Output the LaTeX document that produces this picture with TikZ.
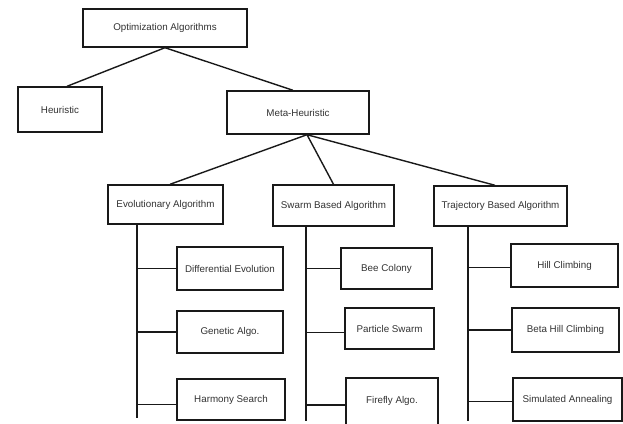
\documentclass[tikz,border=0pt]{standalone}
\usepackage{fontspec}
\setmainfont{Liberation Sans}
\tikzset{
  bx/.style={draw=black!90, line width=1.4pt, fill=white, inner sep=0pt, font=\fontsize{9.8}{11}\selectfont, text=black!80},
  conn/.style={draw=black!90, line width=1.4pt},
}
\newcommand{\mybox}[6]{%
  \node[bx, minimum width={(#4-#2)*1pt}, minimum height={(#5-#3)*1pt}] (#1) at ({(#2+#4)/2},{(#3+#5)/2}) {#6};}
\begin{document}
\begin{tikzpicture}[x=1pt,y=-1pt]
\useasboundingbox[fill=white] (0,0) rectangle (623,423);
% boxes
\mybox{opt}{83}{9}{247}{47}{Optimization Algorithms}
\mybox{heur}{18}{87}{102}{132}{Heuristic}
\mybox{meta}{227}{91}{369}{134}{Meta-Heuristic}
\mybox{evo}{108}{185}{223}{224}{Evolutionary Algorithm}
\mybox{swarm}{273}{185}{394}{226}{Swarm Based Algorithm}
\mybox{traj}{434}{186}{567}{226}{Trajectory Based Algorithm}
\mybox{diff}{177}{247}{283}{290}{Differential Evolution}
\mybox{gen}{177}{311}{283}{353}{Genetic Algo.}
\mybox{harm}{177}{379}{285}{420}{Harmony Search}
\mybox{bee}{341}{248}{432}{289}{Bee Colony}
\mybox{part}{345}{308}{434}{349}{Particle Swarm}
\mybox{fire}{346}{378}{438}{428}{\raisebox{6pt}{Firefly Algo.}}
\mybox{hill}{511}{244}{618}{287}{Hill Climbing}
\mybox{beta}{512}{308}{619}{352}{Beta Hill Climbing}
\mybox{sim}{513}{378}{622}{421}{Simulated Annealing}
% trunk coordinates
\coordinate (evoB) at (137,418);
\coordinate (swB) at (306,421);
\coordinate (trB) at (468,421);
% top connectors
\draw[conn] (opt.south) -- ([xshift=7pt]heur.north);
\draw[conn] (opt.south) -- ([xshift=-5pt]meta.north);
\draw[conn] ([xshift=9pt]meta.south) -- ([xshift=4.5pt]evo.north);
\draw[conn] ([xshift=9pt]meta.south) -- (swarm.north);
\draw[conn] ([xshift=9pt]meta.south) -- ([xshift=-5.5pt]traj.north);
% trunks
\draw[conn] (evo.south -| evoB) -- (evoB);
\draw[conn] (swarm.south -| swB) -- (swB);
\draw[conn] (traj.south -| trB) -- (trB);
% branches
\draw[conn] (diff.west) -- (diff.west -| evoB);
\draw[conn] (gen.west) -- (gen.west -| evoB);
\draw[conn] ([yshift=-5pt]harm.west) -- ([yshift=-5pt]harm.west -| evoB);
\draw[conn] (bee.west) -- (bee.west -| swB);
\draw[conn] ([yshift=-4pt]part.west) -- ([yshift=-4pt]part.west -| swB);
\draw[conn] ([yshift=-2pt]fire.west) -- ([yshift=-2pt]fire.west -| swB);
\draw[conn] ([yshift=-2pt]hill.west) -- ([yshift=-2pt]hill.west -| trB);
\draw[conn] (beta.west) -- (beta.west -| trB);
\draw[conn] ([yshift=-2pt]sim.west) -- ([yshift=-2pt]sim.west -| trB);
\end{tikzpicture}
\end{document}
